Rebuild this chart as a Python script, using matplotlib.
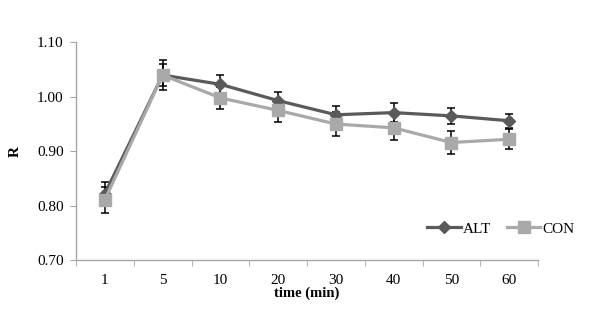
import matplotlib
matplotlib.use("Agg")
import matplotlib.pyplot as plt
import numpy as np

categories = ["1", "5", "10", "20", "30", "40", "50", "60"]
alt_values = [0.822, 1.040, 1.023, 0.993, 0.967, 0.971, 0.965, 0.956]
alt_err = [0.022, 0.020, 0.018, 0.016, 0.017, 0.018, 0.015, 0.013]
con_values = [0.811, 1.040, 0.998, 0.975, 0.950, 0.943, 0.916, 0.922]
con_err = [0.024, 0.028, 0.020, 0.021, 0.022, 0.023, 0.021, 0.018]
yticks = [0.70, 0.80, 0.90, 1.00, 1.10]

plt.rcParams['font.family'] = ['Liberation Serif', 'DejaVu Serif']

fig = plt.figure(figsize=(6.08, 3.24), dpi=100)
ax = fig.add_axes([0.125, 0.1975, 0.76, 0.6715])

x = np.arange(len(categories))
alt_c = '#5a5a5a'
con_c = '#a9a9a9'

ax.errorbar(x, alt_values, yerr=alt_err, fmt='none', ecolor='black', elinewidth=1.1,
            capsize=3, capthick=1.1, zorder=2)
ax.errorbar(x, con_values, yerr=con_err, fmt='none', ecolor='black', elinewidth=1.1,
            capsize=3, capthick=1.1, zorder=2)
ax.plot(x, alt_values, color=alt_c, lw=2.3, marker='D', markersize=6.5, label='ALT', zorder=3)
ax.plot(x, con_values, color=con_c, lw=2.3, marker='s', markersize=8.5, label='CON', zorder=4)

ax.set_xlim(-0.5, len(categories) - 0.5)
ax.set_ylim(0.70, 1.10)
ax.set_yticks(yticks)
ax.set_yticklabels([f"{v:.2f}" for v in yticks])
ax.set_xticks(x)
ax.set_xticklabels(categories)
ax.set_xticks(np.arange(len(categories) + 1) - 0.5, minor=True)
ax.tick_params(axis='x', which='major', length=0, pad=10, labelsize=11)
ax.tick_params(axis='x', which='minor', length=4, color='#a6a6a6', direction='out')
ax.tick_params(axis='y', length=4, color='#a6a6a6', direction='out', labelsize=11, pad=5)

for s in ['top', 'right']:
    ax.spines[s].set_visible(False)
for s in ['left', 'bottom']:
    ax.spines[s].set_color('#a6a6a6')
    ax.spines[s].set_linewidth(1.0)

ax.set_xlabel('time (min)', fontweight='bold', fontsize=10.5, labelpad=0)
ax.set_ylabel('R', fontweight='bold', fontsize=11)
ax.yaxis.set_label_coords(-0.117, 0.5)

ax.legend(loc='center', bbox_to_anchor=(0.92, 0.143), ncol=2, frameon=False,
          fontsize=11, handlelength=2.2, columnspacing=1.0, handletextpad=0.15)

fig.savefig('out.png', dpi=100)
